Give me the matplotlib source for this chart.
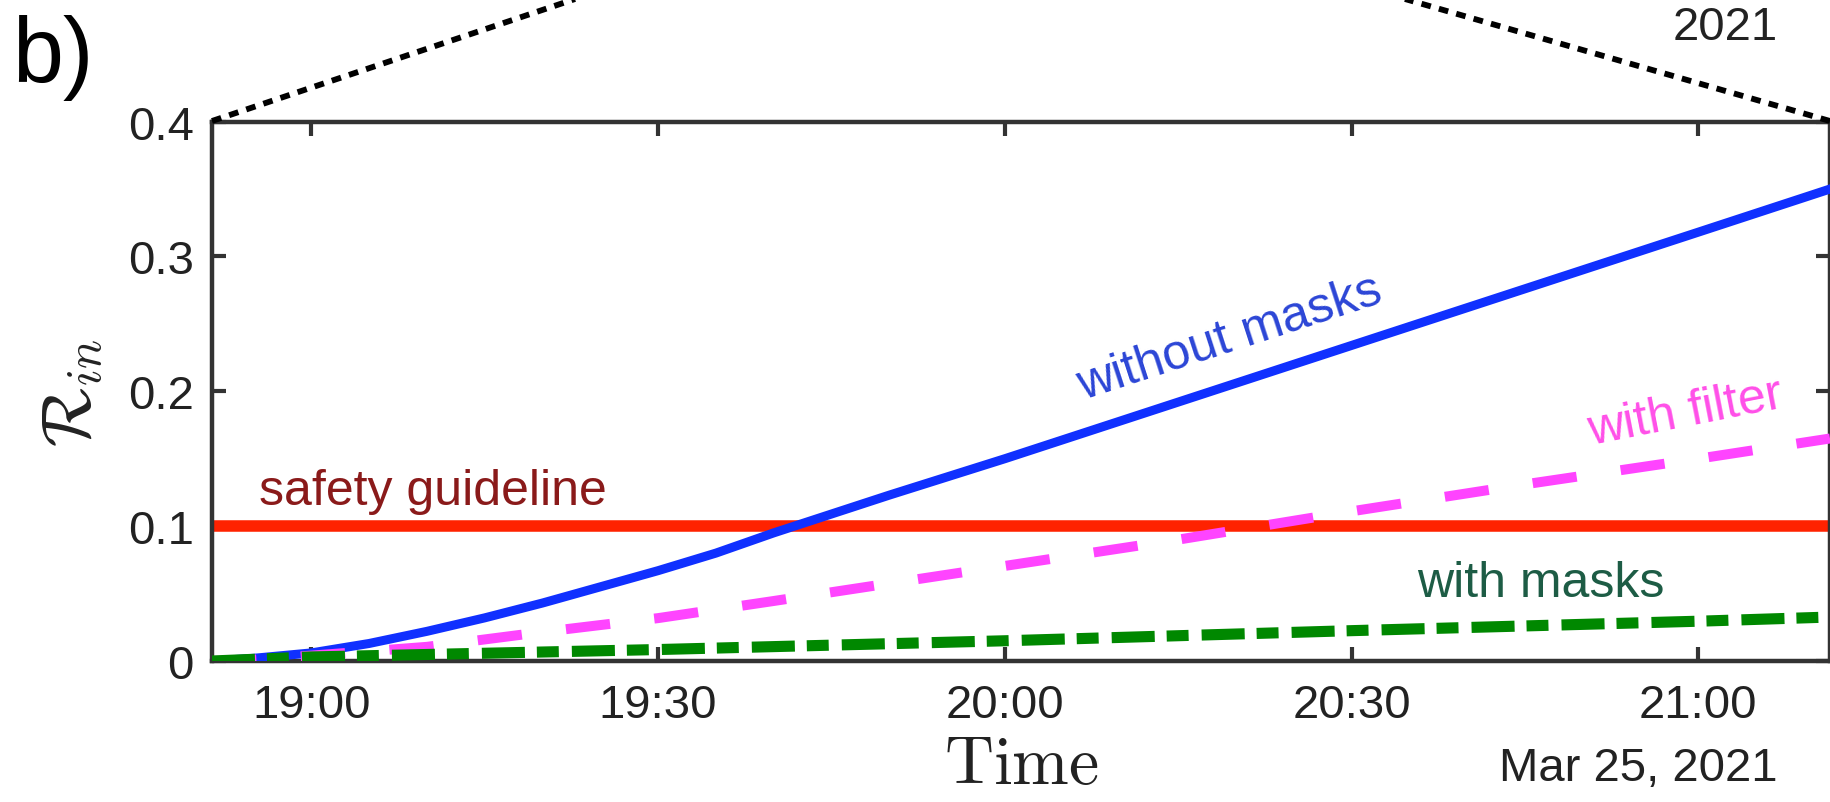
import matplotlib
matplotlib.use("Agg")
import matplotlib.pyplot as plt
import matplotlib.dates as mdates
from matplotlib.lines import Line2D
import numpy as np

plt.rcParams['font.family'] = ['Liberation Sans', 'DejaVu Sans']
plt.rcParams['mathtext.fontset'] = 'cm'
plt.rcParams['lines.scale_dashes'] = False

DAY = "2021-03-25T"

# R_in without masks
t_nomask = ["18:51:24", "18:55", "19:00", "19:05", "19:10", "19:15", "19:20", "19:25",
            "19:30", "19:35", "19:40", "19:45", "19:50", "20:00", "20:15", "20:30",
            "20:45", "21:00", "21:11:24"]
r_nomask = [0.000, 0.002, 0.006, 0.013, 0.022, 0.032, 0.043, 0.055,
            0.067, 0.080, 0.095, 0.109, 0.123, 0.150, 0.192, 0.234,
            0.276, 0.318, 0.350]

# R_in with filter
t_filter = ["18:51:24", "18:55", "19:00", "19:10", "19:20", "19:30", "19:40", "19:50",
            "20:00", "20:15", "20:30", "20:45", "21:00", "21:11:24"]
r_filter = [0.000, 0.001, 0.004, 0.0105, 0.0215, 0.0318, 0.0445, 0.0575,
            0.0705, 0.090, 0.111, 0.131, 0.150, 0.165]

# R_in with masks
t_masks = ["18:51:24", "19:00", "19:30", "20:00", "20:30", "21:00", "21:11:24"]
r_masks = [0.000, 0.003, 0.0085, 0.015, 0.0225, 0.0295, 0.0326]

guideline = 0.1
x_range = ["18:51:24", "21:11:24"]
x_ticks = ["19:00", "19:30", "20:00", "20:30", "21:00"]
y_ticks = [0, 0.1, 0.2, 0.3, 0.4]
y_ticklabels = ["0", "0.1", "0.2", "0.3", "0.4"]


def to_time(lst):
    return np.array([np.datetime64(DAY + (s if s.count(":") == 2 else s + ":00")) for s in lst])


W, H = 1831, 803
fig = plt.figure(figsize=(W / 100, H / 100), dpi=100)
ax = fig.add_axes([212 / W, 1 - 662 / H, (1830 - 212) / W, (662 - 122.6) / H])

axis_col = "#333333"

ax.axhline(guideline, color="#ff2200", lw=8.3, zorder=2)
ax.plot(to_time(t_nomask), r_nomask, color="#1030ff", lw=6.5, zorder=3)
ax.plot(to_time(t_filter), r_filter, color="#ff44ff", lw=7.2,
        dashes=(32, 32), zorder=3)
ax.plot(to_time(t_masks), r_masks, color="#008800", lw=8,
        dashes=(31, 8.6, 15.8, 9.4), zorder=4)

ax.set_xlim(to_time(x_range))
ax.set_ylim(0, 0.4)
ax.set_xticks(to_time(x_ticks))
ax.xaxis.set_major_formatter(mdates.DateFormatter("%H:%M"))
ax.set_yticks(y_ticks)
ax.set_yticklabels(y_ticklabels)

ax.tick_params(direction="in", length=10, width=3, color=axis_col,
               labelsize=34, labelcolor="#222222", top=True, right=True)
ax.tick_params(axis="x", pad=16)
ax.tick_params(axis="y", pad=13)
for sp in ax.spines.values():
    sp.set_linewidth(3.2)
    sp.set_color(axis_col)

ax.set_xlabel(r"$\mathrm{Time}$", fontsize=49, labelpad=4, color="#222222")
ax.set_ylabel(r"$\mathcal{R}_{in}$", fontsize=50, labelpad=16, color="#222222")

lab_fs = 36
ax.text(np.datetime64(DAY + "20:19:30"), 0.240, "without masks", color="#2b45d6",
        fontsize=lab_fs, rotation=18, ha="center", va="center", rotation_mode="anchor")
ax.text(np.datetime64(DAY + "20:58:54"), 0.1846, "with filter", color="#ff4fe8",
        fontsize=lab_fs, rotation=11, ha="center", va="center", rotation_mode="anchor")
ax.text(np.datetime64(DAY + "18:55:30"), 0.1164, "safety guideline", color="#8a1a1a",
        fontsize=lab_fs, ha="left", va="baseline")
ax.text(np.datetime64(DAY + "20:46:24"), 0.048, "with masks", color="#1d5c45",
        fontsize=lab_fs, ha="center", va="baseline")

# date under the axis, MATLAB style
fig.text(1778 / W, 1 - 781 / H, "Mar 25, 2021", fontsize=34, color="#222222",
         ha="right", va="baseline")

# leftovers from the zoomed panel above
fig.text(12 / W, 1 - 82 / H, "b)", fontsize=66, color="black", ha="left", va="baseline")
fig.text(1778 / W, 1 - 40 / H, "2021", fontsize=34, color="#222222", ha="right", va="baseline")
for x0, x1 in [(212, 575), (1830, 1405)]:
    fig.add_artist(Line2D([x0 / W, x1 / W], [1 - 122 / H, 1.0], transform=fig.transFigure,
                          color="black", lw=4.2, dashes=(7, 6), clip_on=False))

fig.savefig("out.png", dpi=100)
